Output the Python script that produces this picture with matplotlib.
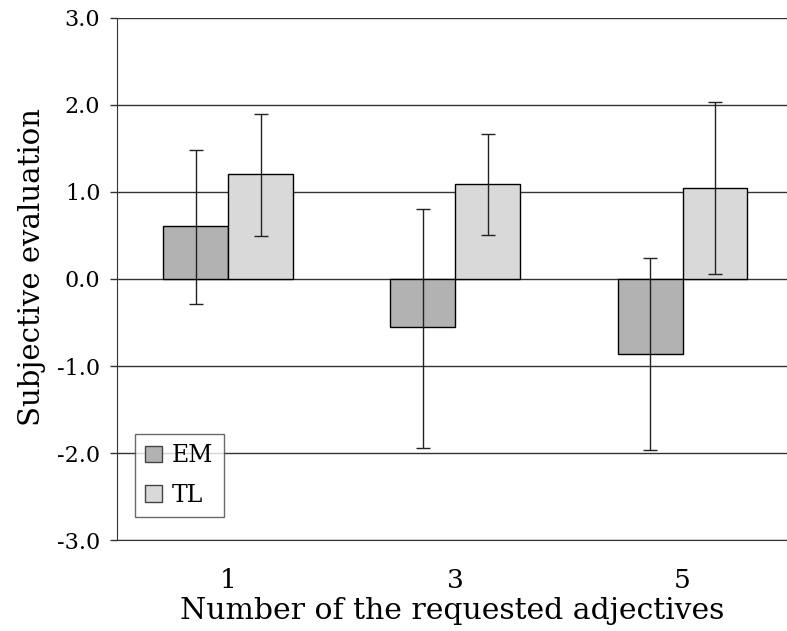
import numpy as np
import matplotlib
matplotlib.use("Agg")
import matplotlib.pyplot as plt

groups = ["1", "3", "5"]
em_mean = [0.61, -0.55, -0.86]
em_low = [-0.29, -1.94, -1.97]
em_high = [1.48, 0.80, 0.24]
tl_mean = [1.21, 1.09, 1.05]
tl_low = [0.49, 0.51, 0.06]
tl_high = [1.90, 1.67, 2.03]
yticks = [-3.0, -2.0, -1.0, 0.0, 1.0, 2.0, 3.0]

plt.rcParams['font.family'] = ['DejaVu Serif']

fig = plt.figure(figsize=(7.87, 6.31), dpi=100)
ax = fig.add_axes([0.1487, 0.1442, 0.8513, 0.8273])

x = np.arange(len(groups))
w = 0.286
em_err = [np.subtract(em_mean, em_low), np.subtract(em_high, em_mean)]
tl_err = [np.subtract(tl_mean, tl_low), np.subtract(tl_high, tl_mean)]

ax.bar(x - w / 2, em_mean, w, color='#b2b2b2', edgecolor='black', linewidth=1, label='EM', zorder=2)
ax.bar(x + w / 2, tl_mean, w, color='#d9d9d9', edgecolor='black', linewidth=1, label='TL', zorder=2)
ax.errorbar(x - w / 2, em_mean, yerr=em_err, fmt='none', ecolor='#222222', elinewidth=1, capsize=5, zorder=3)
ax.errorbar(x + w / 2, tl_mean, yerr=tl_err, fmt='none', ecolor='#222222', elinewidth=1, capsize=5, zorder=3)

ax.set_ylim(-3, 3)
ax.set_xlim(-0.49, 2.46)
ax.set_yticks(yticks)
ax.set_yticklabels([f"{v:.1f}" for v in yticks], fontsize=16)
ax.set_xticks(x)
ax.set_xticklabels(groups, fontsize=19)
ax.tick_params(axis='x', length=0, pad=20)
ax.tick_params(axis='y', length=5, width=1, color='#333333', pad=7)
ax.yaxis.grid(True, color='#333333', linewidth=1)
ax.set_axisbelow(True)
for s in ['top', 'right']:
    ax.spines[s].set_visible(False)
ax.spines['left'].set_color('#333333')
ax.spines['bottom'].set_color('#333333')

ax.set_xlabel('Number of the requested adjectives', fontsize=21.5, labelpad=3)
ax.set_ylabel('Subjective evaluation', fontsize=21, labelpad=8)
ax.yaxis.label.set_y(0.523)

leg = ax.legend(loc='lower left', bbox_to_anchor=(0.027, 0.045), fontsize=17, frameon=True,
                fancybox=False, edgecolor='#444444', handlelength=0.7, handleheight=0.7,
                handletextpad=0.45, labelspacing=0.7, borderpad=0.42, borderaxespad=0)
leg.get_frame().set_linewidth(1)
leg.set_zorder(5)
for h in leg.legend_handles:
    h.set_edgecolor('#444444')

fig.savefig('out.png', dpi=100)
